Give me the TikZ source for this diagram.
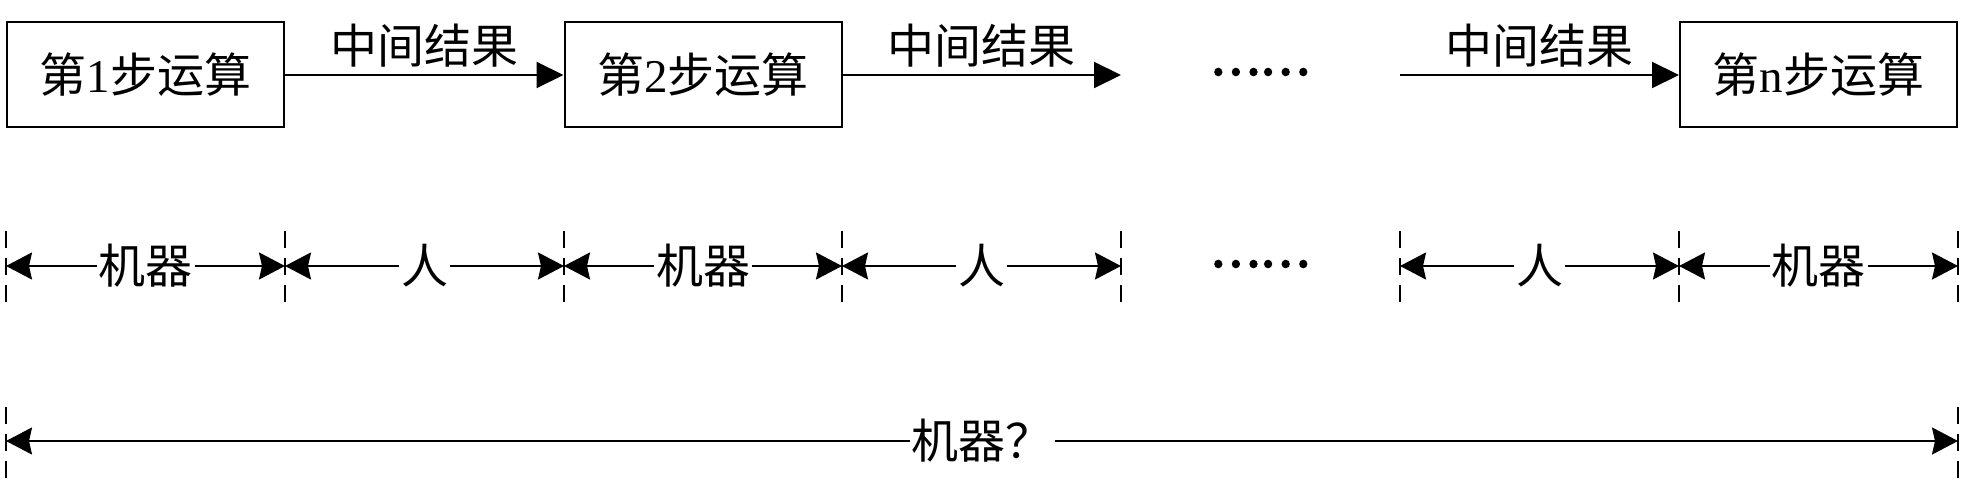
\documentclass[tikz,border=0pt]{standalone}
\usepackage{fontspec}
\setmainfont{Noto Sans CJK SC}
\newfontfamily\lat{Liberation Serif}
\newfontfamily\dotfont[FakeBold=4]{Noto Sans CJK SC}
\usetikzlibrary{arrows.meta}
\begin{document}
\begin{tikzpicture}[x=1pt,y=1pt,
  every node/.style={font=\fontsize{47}{50}\selectfont},
  stepbox/.style={draw, line width=2pt, minimum width=277pt, minimum height=105pt, inner sep=0pt},
  flow/.style={line width=2pt, -{Triangle[length=27pt,width=26pt]}},
  dimline/.style={line width=2pt, {Stealth[length=26pt,width=27pt,inset=3pt]}-{Stealth[length=26pt,width=27pt,inset=3pt]}},
  tickline/.style={line width=1.8pt, dash pattern=on 17pt off 10pt},
  lbl/.style={fill=white, inner sep=2pt},
  toplbl/.style={midway, yshift=29pt, inner sep=0pt},
  dots/.style={font=\fontsize{47}{50}\dotfont},
]
\useasboundingbox (0,0) rectangle (1977,-484);

% row 1
\node[stepbox] (b1) at (145.5,-75) {第{\lat 1}步运算};
\node[stepbox] (b2) at (703,-75) {第{\lat 2}步运算};
\node[stepbox] (bn) at (1818.5,-75) {第{\lat n}步运算};
\coordinate (e2) at (1121,-75);
\coordinate (s3) at (1400,-75);
\draw[flow] (b1.east) -- node[toplbl] (l1) {中间结果} (b2.west);
\draw[flow] (b2.east) -- node[toplbl] (l2) {中间结果} (e2);
\draw[flow] (s3) -- node[toplbl] (l3) {中间结果} (bn.west);
\node[dots] (d1) at (1260,-72) {……};

% row 2
\foreach \i/\x in {0/6,1/285,2/564,3/842,4/1121,5/1400,6/1679,7/1958}{
  \coordinate (t\i) at (\x,-266);
  \draw[tickline] ([yshift=35pt]t\i) -- ([yshift=-36pt]t\i);
}
\draw[dimline] (t0) -- node[lbl] (m1) {机器} (t1);
\draw[dimline] (t1) -- node[lbl] (h1) {人} (t2);
\draw[dimline] (t2) -- node[lbl] (m2) {机器} (t3);
\draw[dimline] (t3) -- node[lbl] (h2) {人} (t4);
\node[dots] (d2) at (1260,-264) {……};
\draw[dimline] (t5) -- node[lbl] (h3) {人} (t6);
\draw[dimline] (t6) -- node[lbl] (mn) {机器} (t7);

% row 3
\coordinate (u0) at (6,-441);
\coordinate (u7) at (1958,-441);
\draw[tickline] ([yshift=34pt]u0) -- ([yshift=-37pt]u0);
\draw[tickline] ([yshift=34pt]u7) -- ([yshift=-37pt]u7);
\draw[dimline] (u0) -- node[lbl] (mq) {机器？} (u7);
\end{tikzpicture}
\end{document}
